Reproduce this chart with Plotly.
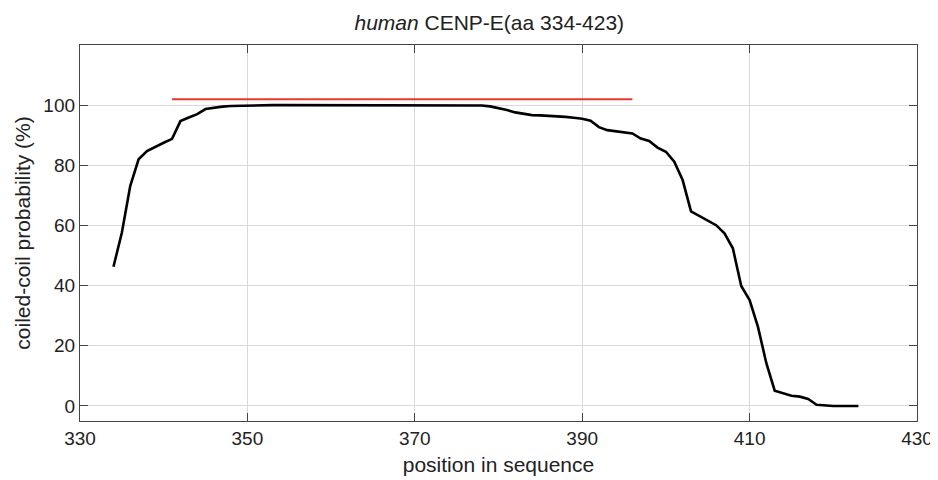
import plotly.graph_objects as go

position = list(range(334, 424))
probability = [
    46.3, 57.6, 73.1, 82.0, 84.7, 86.2, 87.5, 88.8, 94.7, 95.9,   # 334-343
    97.0, 98.7, 99.2, 99.5, 99.7, 99.8, 99.9, 100, 100, 100,       # 344-353
    100, 100, 100, 100, 100, 100, 100, 100, 100, 100,              # 354-363
    100, 100, 100, 100, 100, 100, 100, 100, 100, 100,              # 364-373
    100, 100, 100, 100, 99.9, 99.6, 99.1, 98.4, 97.6, 97.1,        # 374-383
    96.7, 96.6, 96.5, 96.4, 96.1, 95.8, 95.5, 94.8, 92.7, 91.7,    # 384-393
    91.3, 91.0, 90.6, 88.9, 88.1, 85.9, 84.5, 81.2, 75.1, 64.7,    # 394-403
    63.1, 61.6, 60.1, 57.4, 52.4, 39.9, 35.2, 26.3, 14.2, 5.1,     # 404-413
    4.2, 3.4, 3.1, 2.3, 0.4, 0.1, 0.0, 0.0, 0.0, 0.0,              # 414-423
]

region_x = [341, 396]
region_y = [102, 102]

x_ticks = [330, 350, 370, 390, 410, 430]
y_ticks = [0, 20, 40, 60, 80, 100]

font_family = "Liberation Sans, Arial, Helvetica, sans-serif"

# the page body has an 8px margin, so the figure is drawn 8px smaller
W, H = 930, 472

fig = go.Figure()
fig.add_trace(go.Scatter(x=region_x, y=region_y, mode="lines",
                         line=dict(color="#e5392c", width=2), showlegend=False))
fig.add_trace(go.Scatter(x=position, y=probability, mode="lines",
                         line=dict(color="#000000", width=2.6), showlegend=False))

axis_common = dict(
    showline=True, linecolor="#444444", linewidth=1.3, mirror="ticks",
    ticks="inside", ticklen=8, tickwidth=1, tickcolor="#444444",
    showgrid=True, gridcolor="#d9d9d9", gridwidth=1, zeroline=False,
    automargin=False,
    tickfont=dict(family=font_family, size=19, color="#222222"),
)

fig.update_layout(
    width=W, height=H,
    margin=dict(l=72, r=21, t=37, b=59),
    paper_bgcolor="white", plot_bgcolor="white",
    title=dict(text="<i>human</i> CENP-E(aa 334-423)", x=0.489, xref="paper",
               y=1 - 15 / H, yref="container", xanchor="center", yanchor="middle",
               font=dict(family=font_family, size=21, color="#222222")),
    xaxis=dict(range=[330, 430], tickvals=x_ticks,
               title=dict(text="position in sequence", standoff=9,
                          font=dict(family=font_family, size=21, color="#222222")),
               **axis_common),
    yaxis=dict(range=[-5, 120], tickvals=y_ticks,
               title=dict(text="coiled-coil probability (%)", standoff=6,
                          font=dict(family=font_family, size=21, color="#222222")),
               **axis_common),
)

fig.write_html("out.html")
